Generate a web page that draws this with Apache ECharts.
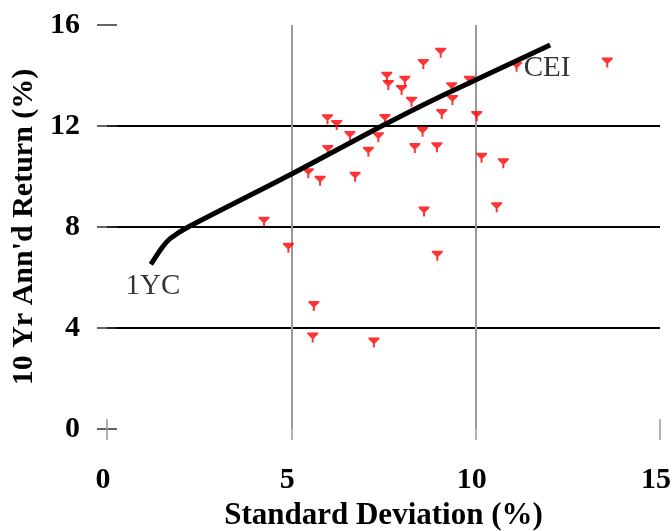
<!DOCTYPE html>
<html>
<head>
<meta charset="utf-8">
<script src="https://cdn.jsdelivr.net/npm/echarts@6/dist/echarts.min.js"></script>
<style>
  html, body { margin: 0; padding: 0; background: #fff; }
  #chart { width: 672px; height: 531px; }
</style>
</head>
<body>
<div id="chart"></div>
<script>
// fund points: standard deviation (%) vs 10 yr annualised return (%)
var stdDev = [4.26, 4.92, 5.61, 5.58, 7.24, 5.46, 5.78, 6.73, 5.99, 5.98,
              6.23, 6.59, 7.36, 7.09, 7.54, 7.59, 7.63, 8.08, 7.99, 8.26,
              8.58, 9.05, 8.56, 8.35, 8.95, 9.08, 9.35, 9.37, 9.83, 10.03,
              11.11, 13.57, 10.16, 10.75, 10.57, 8.60, 8.96];
var annReturn = [8.21, 7.18, 4.87, 3.62, 3.43, 10.13, 9.83, 9.99, 11.05, 12.27,
                 12.04, 11.60, 11.55, 10.98, 12.28, 13.95, 13.62, 13.79, 13.43, 12.96,
                 14.46, 14.90, 11.77, 11.13, 11.16, 12.48, 13.53, 13.03, 13.79, 12.40,
                 14.35, 14.51, 10.74, 10.52, 8.78, 8.61, 6.86];

// frontier from 1YC to CEI
var frontierX = [1.19, 1.48, 1.72, 2.25, 5.01, 7.40, 9.03, 12.02];
var frontierY = [6.52, 7.16, 7.55, 8.04, 10.10, 11.96, 13.16, 15.21];
var endNames = ['1YC', 'CEI'];

var xTicks = [0, 5, 10, 15];
var yTicks = [0, 4, 8, 12, 16];

var serif = "'Liberation Serif', 'Times New Roman', serif";

var pts = [];
for (var i = 0; i < stdDev.length; i++) {
    pts.push([stdDev[i], annReturn[i]]);
}
var line = [];
for (var j = 0; j < frontierX.length; j++) {
    line.push([frontierX[j], frontierY[j]]);
}
var last = frontierX.length - 1;
var ends = [
    {value: [frontierX[0], frontierY[0]], label: {position: 'bottom', distance: 7, offset: [2, 0]}},
    {value: [frontierX[last], frontierY[last]], label: {position: 'right', distance: 0, offset: [-27, 23]}}
];

var chart = echarts.init(document.getElementById('chart'));
chart.setOption({
    animation: false,
    backgroundColor: '#fff',
    grid: {left: 107, top: 25, width: 553, height: 404, outerBoundsMode: 'none', containLabel: false},
    xAxis: [
        {
            type: 'value', min: xTicks[0], max: xTicks[xTicks.length - 1], interval: 5,
            position: 'bottom',
            name: 'Standard Deviation (%)', nameLocation: 'middle', nameGap: 71,
            nameTextStyle: {fontFamily: serif, fontWeight: 'bold', fontSize: 31, color: '#000'},
            axisLine: {show: false},
            axisTick: {show: true, length: 11, lineStyle: {color: '#999', width: 1.5}},
            axisLabel: {fontFamily: serif, fontWeight: 'bold', fontSize: 30, color: '#000',
                        margin: 36, padding: [0, 8, 0, 0]},
            splitLine: {show: true, showMinLine: false, showMaxLine: false,
                        lineStyle: {color: '#999', width: 2}}
        },
        {
            type: 'value', min: xTicks[0], max: xTicks[xTicks.length - 1], interval: 5,
            position: 'bottom',
            axisLine: {show: false},
            axisTick: {show: true, inside: true, length: 10, lineStyle: {color: '#999', width: 1.5}},
            axisLabel: {show: false},
            splitLine: {show: false}
        }
    ],
    yAxis: [
        {
            type: 'value', min: yTicks[0], max: yTicks[yTicks.length - 1], interval: 4,
            position: 'left',
            name: "10 Yr Ann'd Return (%)", nameLocation: 'middle', nameGap: 63,
            nameTextStyle: {fontFamily: serif, fontWeight: 'bold', fontSize: 30, color: '#000'},
            axisLine: {show: false},
            axisTick: {show: true, length: 10, lineStyle: {color: '#333', width: 1.5}},
            axisLabel: {fontFamily: serif, fontWeight: 'bold', fontSize: 30, color: '#000', margin: 27},
            splitLine: {show: true, showMinLine: false, showMaxLine: false,
                        lineStyle: {color: '#000', width: 2}}
        },
        {
            type: 'value', min: yTicks[0], max: yTicks[yTicks.length - 1], interval: 4,
            position: 'left',
            axisLine: {show: false},
            axisTick: {show: true, inside: true, length: 10, lineStyle: {color: '#333', width: 1.5}},
            axisLabel: {show: false},
            splitLine: {show: false}
        }
    ],
    series: [
        {
            type: 'scatter',
            data: pts,
            symbol: 'path://M0,0 L11,0 L11,1.5 L6.5,6 L6.5,10 L4.5,10 L4.5,6 L0,1.5 Z',
            symbolSize: [11, 10],
            itemStyle: {color: '#ff0000'},
            z: 2
        },
        {
            type: 'line',
            data: line,
            smooth: 0.2,
            symbol: 'none',
            lineStyle: {color: '#000', width: 5},
            z: 3
        },
        {
            type: 'scatter',
            data: ends,
            symbolSize: 1,
            itemStyle: {color: 'rgba(0,0,0,0)'},
            label: {
                show: true,
                fontFamily: serif, fontSize: 29, color: '#000',
                formatter: function(p) { return endNames[p.dataIndex]; }
            },
            z: 4
        }
    ]
});
</script>
</body>
</html>
